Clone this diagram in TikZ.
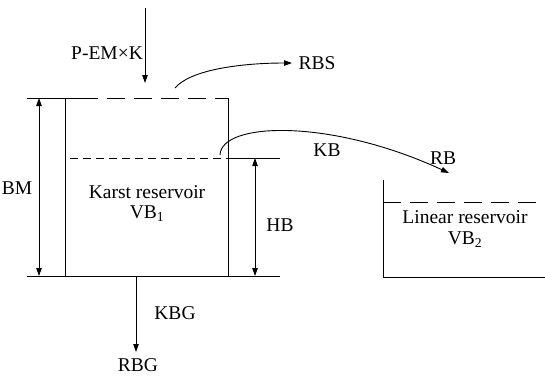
\documentclass[tikz,border=0pt]{standalone}
\usepackage{fontspec}
\setmainfont{Liberation Serif}
\usetikzlibrary{arrows.meta}
\begin{document}
\begin{tikzpicture}[x=1pt,y=-1pt,
  ln/.style={line width=0.9pt},
  arr/.style={ln,-{Triangle[length=8pt,width=5.5pt]}},
  darr/.style={ln,{Triangle[length=8pt,width=5.5pt]}-{Triangle[length=8pt,width=5.5pt]}},
  bigdash/.style={ln,dash pattern=on 18pt off 9pt},
  smalldash/.style={ln,dash pattern=on 8pt off 5pt},
  lbl/.style={font=\fontsize{19.5}{21}\selectfont,inner sep=0pt}]
\useasboundingbox (0,0) rectangle (545,375);
% coordinates
\coordinate (inTop) at (145,8);
\coordinate (inBot) at (145,83);
\coordinate (tl) at (27,98);
\coordinate (tk) at (80,98);
\coordinate (kl) at (65,98);
\coordinate (kr) at (228,98);
\coordinate (klb) at (65,276);
\coordinate (krb) at (228,276);
\coordinate (bl) at (27,276);
\coordinate (br) at (280,276);
\coordinate (ml) at (70,158);
\coordinate (mr) at (228,158);
\coordinate (mre) at (280,158);
\coordinate (bmT) at (39,98);
\coordinate (bmB) at (39,276);
\coordinate (hbT) at (255,158);
\coordinate (hbB) at (255,276);
\coordinate (kbgT) at (136,276);
\coordinate (kbgB) at (136,352);
\coordinate (rbsS) at (175,88);
\coordinate (rbsE) at (292,63);
\coordinate (kbS) at (220,155);
\coordinate (kbE) at (449,173);
\coordinate (lt) at (383,180);
\coordinate (lb) at (383,277);
\coordinate (lbr) at (545,277);
\coordinate (ldl) at (383,202);
\coordinate (ldr) at (545,202);
% karst reservoir
\draw[arr] (inTop) -- (inBot);
\draw[ln] (tl) -- (tk);
\draw[bigdash] (tk) -- (kr);
\draw[ln] (kl) -- (klb);
\draw[ln] (kr) -- (krb);
\draw[ln] (bl) -- (br);
\draw[smalldash] (ml) -- (mr);
\draw[ln] (mr) -- (mre);
\draw[darr] (bmT) -- (bmB);
\draw[darr] (hbT) -- (hbB);
\draw[arr] (kbgT) -- (kbgB);
\draw[arr] (rbsS) .. controls (190,70) and (240,63) .. (rbsE);
\draw[arr] (kbS) .. controls (221,122) and (330,118) .. (kbE);
% linear reservoir
\draw[ln] (lt) -- (lb) -- (lbr);
\draw[bigdash] (ldl) -- (ldr);
% labels
\node[lbl] (pem) at (107,53) {P-EM×K};
\node[lbl] (rbs) at (317,63) {RBS};
\node[lbl] (bm) at (17,188) {BM};
\node[lbl] (kr1) at (147,192) {Karst reservoir};
\node[lbl] (vb1) at (147,214) {VB\textsubscript{1}};
\node[lbl] (hb) at (280,225) {HB};
\node[lbl] (kb) at (327,150) {KB};
\node[lbl] (rb) at (443,158) {RB};
\node[lbl] (kbg) at (175,313) {KBG};
\node[lbl] (rbg) at (138,365) {RBG};
\node[lbl] (lr) at (465,217) {Linear reservoir};
\node[lbl] (vb2) at (465,240) {VB\textsubscript{2}};
\end{tikzpicture}
\end{document}
